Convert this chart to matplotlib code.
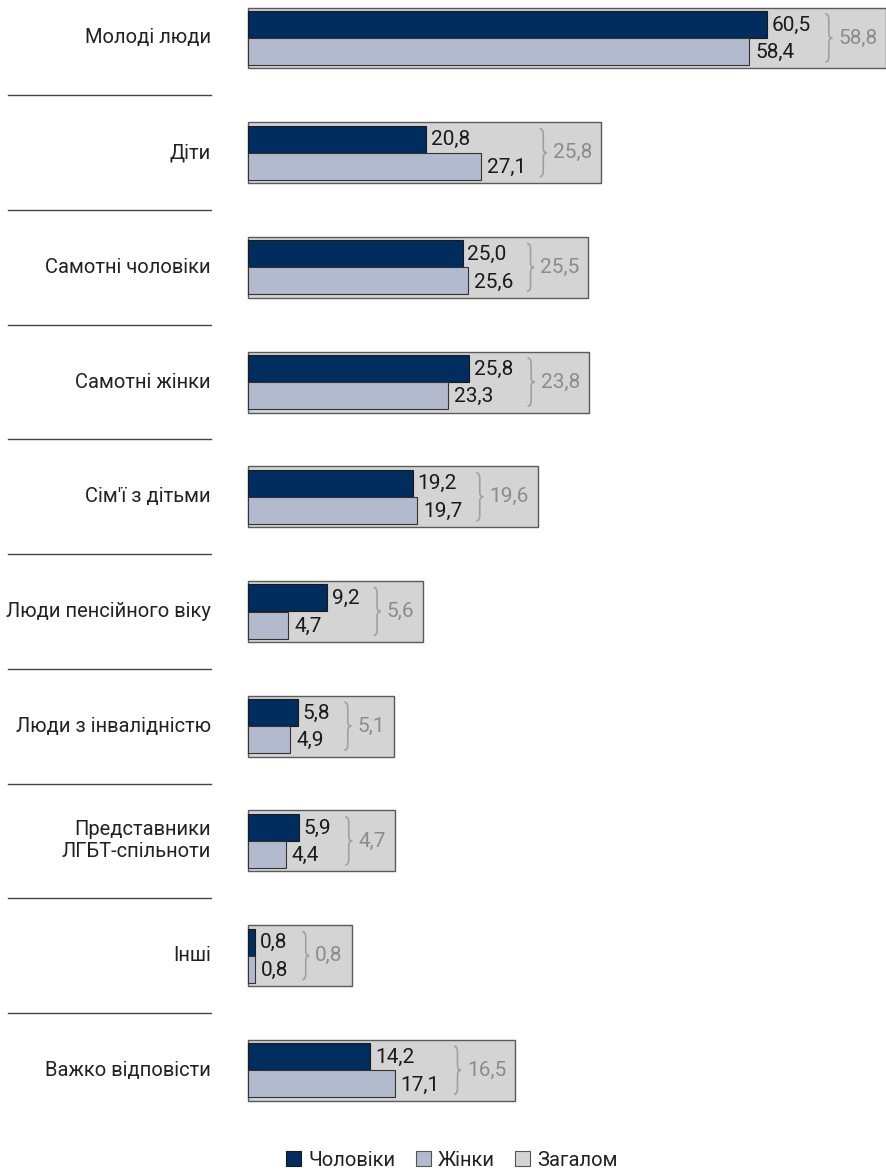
import matplotlib
matplotlib.use("Agg")
import matplotlib.pyplot as plt
from matplotlib.patches import Rectangle, Patch, PathPatch
from matplotlib.path import Path

plt.rcParams["font.family"] = ["Roboto", "DejaVu Sans"]

categories = [
    "Молоді люди",
    "Діти",
    "Самотні чоловіки",
    "Самотні жінки",
    "Сім'ї з дітьми",
    "Люди пенсійного віку",
    "Люди з інвалідністю",
    "Представники\nЛГБТ-спільноти",
    "Інші",
    "Важко відповісти",
]
men = [60.5, 20.8, 25.0, 25.8, 19.2, 9.2, 5.8, 5.9, 0.8, 14.2]
women = [58.4, 27.1, 25.6, 23.3, 19.7, 4.7, 4.9, 4.4, 0.8, 17.1]
overall = [58.8, 25.8, 25.5, 23.8, 19.6, 5.6, 5.1, 4.7, 0.8, 16.5]
legend_labels = ["Чоловіки", "Жінки", "Загалом"]

C_MEN = "#002d5e"
C_WOMEN = "#b4bace"
C_ALL = "#d4d4d4"
C_TOTAL_TXT = "#8c8c8c"

W, H = 886, 1173
fig = plt.figure(figsize=(W / 100, H / 100), dpi=100)
ax = fig.add_axes([0, 0, 1, 1])

# pixel layout -> data units
x0_px, px_per_val = 248, 8.58
y0_px, px_per_row = 38, 114.7
ax.set_xlim(-x0_px / px_per_val, (W - x0_px) / px_per_val)
ax.set_ylim((H - y0_px) / px_per_row, -y0_px / px_per_row)
ax.axis("off")


def px2x(px):
    return (px - x0_px) / px_per_val


box_h = 61 / px_per_row
bar_h = 27 / px_per_row
VAL_FS = 15

fig.canvas.draw()
renderer = fig.canvas.get_renderer()
inv = ax.transData.inverted()


def right_edge(t):
    bb = t.get_window_extent(renderer)
    return inv.transform((bb.x1, bb.y0))[0]


def fmt(v):
    return f"{v:.1f}".replace(".", ",")


def brace(x, yc, h, w):
    # curly brace "}" in data units
    verts = [
        (x, yc - h / 2),
        (x + w / 2, yc - h / 2), (x + w / 2, yc - h / 2 + h * 0.12),
        (x + w / 2, yc - h * 0.1),
        (x + w / 2, yc), (x + w, yc),
        (x + w / 2, yc), (x + w / 2, yc + h * 0.1),
        (x + w / 2, yc + h / 2 - h * 0.12),
        (x + w / 2, yc + h / 2), (x, yc + h / 2),
    ]
    codes = [Path.MOVETO,
             Path.CURVE3, Path.CURVE3,
             Path.LINETO,
             Path.CURVE3, Path.CURVE3,
             Path.CURVE3, Path.CURVE3,
             Path.LINETO,
             Path.CURVE3, Path.CURVE3]
    return PathPatch(Path(verts, codes), fill=False, edgecolor="#a0a0a0",
                     lw=1.2, zorder=4)


for i, (cat, m, f, t) in enumerate(zip(categories, men, women, overall)):
    # value labels first so the box can wrap around them
    tm = ax.text(m + 5 / px_per_val, i - bar_h / 2 + 0.005, fmt(m),
                 ha="left", va="center", fontsize=VAL_FS, color="#1a1a1a", zorder=5)
    tf = ax.text(f + 6 / px_per_val, i + bar_h / 2 + 0.01, fmt(f),
                 ha="left", va="center", fontsize=VAL_FS, color="#1a1a1a", zorder=5)
    lab_end = max(right_edge(tm), right_edge(tf))
    bx = lab_end + 14 / px_per_val
    ax.add_patch(brace(bx, i, 48 / px_per_row, 7 / px_per_val))
    tt = ax.text(bx + 13 / px_per_val, i, fmt(t),
                 ha="left", va="center", fontsize=VAL_FS, color=C_TOTAL_TXT, zorder=5)
    box_end = right_edge(tt) + 9 / px_per_val

    ax.add_patch(Rectangle((0, i - box_h / 2), box_end, box_h, facecolor=C_ALL,
                           edgecolor="#5a5a5a", lw=1.0, zorder=1))
    ax.barh(i - bar_h / 2, m, height=bar_h, color=C_MEN, edgecolor="#1a1a1a",
            lw=0.8, zorder=3)
    ax.barh(i + bar_h / 2, f, height=bar_h, color=C_WOMEN, edgecolor="#333333",
            lw=0.8, zorder=3)

    ax.text(px2x(211), i, cat, ha="right", va="center", fontsize=14.5,
            color="#222222", linespacing=1.2)
    if i < len(categories) - 1:
        ax.plot([px2x(8), px2x(211)], [i + 0.5, i + 0.5], color="#444444", lw=1.0)

handles = [
    Patch(facecolor=C_MEN, edgecolor="#1a1a1a", lw=0.8),
    Patch(facecolor=C_WOMEN, edgecolor="#555555", lw=0.8),
    Patch(facecolor=C_ALL, edgecolor="#555555", lw=0.8),
]
fig.legend(handles, legend_labels, loc="center", bbox_to_anchor=(0.51, 1 - 1160 / H),
           ncol=3, frameon=False, fontsize=14.5, handlelength=0.75, handleheight=0.75,
           handletextpad=0.35, columnspacing=1.0, labelcolor="#222222",
           borderpad=0, borderaxespad=0)

fig.savefig("out.png", dpi=100)
